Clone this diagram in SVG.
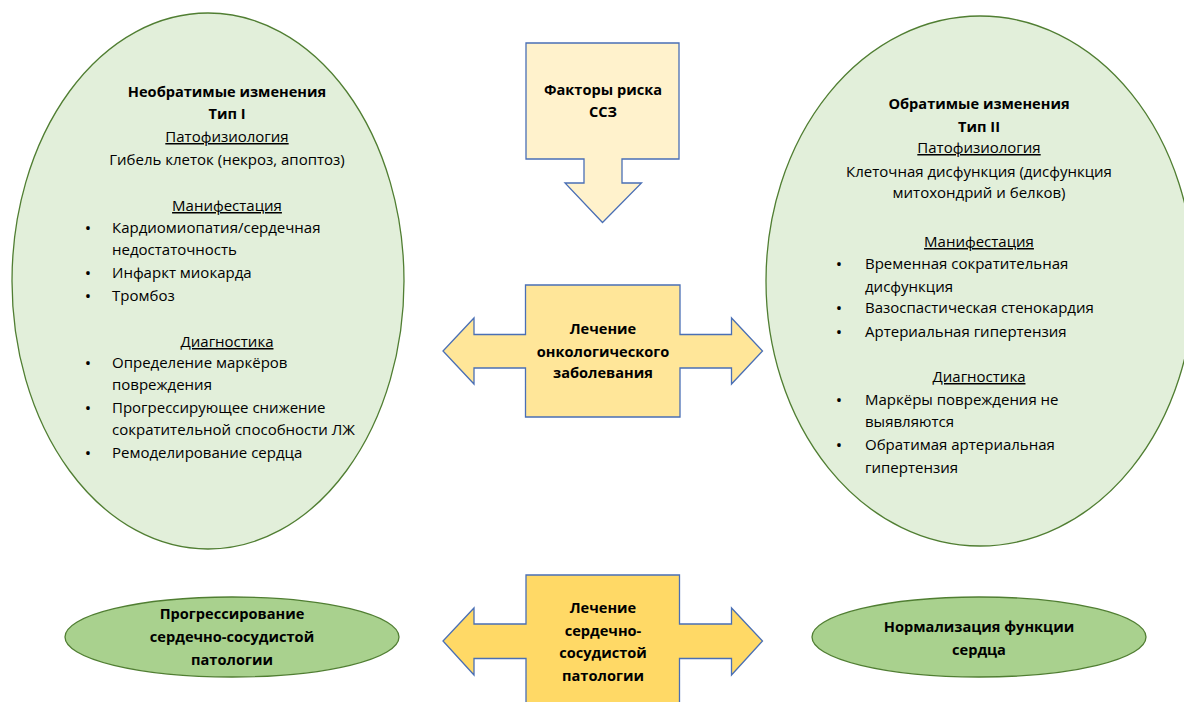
<svg xmlns="http://www.w3.org/2000/svg" width="1184" height="702" viewBox="0 0 1184 702">
<style>
text{font-family:"Open Sans","Noto Sans","Liberation Sans",sans-serif;font-size:15px;fill:#000}
.b{font-weight:bold;font-size:14.6px}
.c{text-anchor:middle}
.u{text-decoration:underline}
.d{font-size:17px;text-anchor:middle}
.big{fill:#E2EFDA;stroke:#507E32;stroke-width:1.3}
.sm{fill:#A9D18E;stroke:#507E32;stroke-width:1.3}
.box{stroke:#4A6FB5;stroke-width:1.3;stroke-linejoin:miter}
</style>
<rect width="1184" height="702" fill="#fff"/>
<g id="connectors"/>
<g id="irreversible">
<ellipse class="big" cx="208" cy="281" rx="196" ry="268"/>
<text class="b c" x="227" y="97">Необратимые изменения</text>
<text class="b c" x="227" y="119">Тип I</text>
<text class="c u" x="227" y="142">Патофизиология</text>
<text class="c" x="227" y="165">Гибель клеток (некроз, апоптоз)</text>
<text class="c u" x="227" y="211">Манифестация</text>
<text class="d" x="88" y="234">•</text><text x="112" y="233">Кардиомиопатия/сердечная</text>
<text x="112" y="255">недостаточность</text>
<text class="d" x="88" y="279">•</text><text x="112" y="278">Инфаркт миокарда</text>
<text class="d" x="88" y="302">•</text><text x="112" y="301">Тромбоз</text>
<text class="c u" x="227" y="347">Диагностика</text>
<text class="d" x="88" y="369">•</text><text x="112" y="368">Определение маркёров</text>
<text x="112" y="390">повреждения</text>
<text class="d" x="88" y="414">•</text><text x="112" y="413">Прогрессирующее снижение</text>
<text x="112" y="435">сократительной способности ЛЖ</text>
<text class="d" x="88" y="459">•</text><text x="112" y="458">Ремоделирование сердца</text>
</g>
<g id="reversible">
<ellipse class="big" cx="980" cy="281" rx="214" ry="265"/>
<text class="b c" x="979" y="109">Обратимые изменения</text>
<text class="b c" x="979" y="132">Тип II</text>
<text class="c u" x="979" y="153">Патофизиология</text>
<text class="c" x="979" y="177">Клеточная дисфункция (дисфункция</text>
<text class="c" x="979" y="198">митохондрий и белков)</text>
<text class="c u" x="979" y="247">Манифестация</text>
<text class="d" x="839" y="270">•</text><text x="865" y="269">Временная сократительная</text>
<text x="865" y="292">дисфункция</text>
<text class="d" x="839" y="314">•</text><text x="865" y="313">Вазоспастическая стенокардия</text>
<text class="d" x="839" y="338">•</text><text x="865" y="337">Артериальная гипертензия</text>
<text class="c u" x="979" y="382">Диагностика</text>
<text class="d" x="839" y="406">•</text><text x="865" y="405">Маркёры повреждения не</text>
<text x="865" y="427">выявляются</text>
<text class="d" x="839" y="451">•</text><text x="865" y="450">Обратимая артериальная</text>
<text x="865" y="473">гипертензия</text>
</g>
<g id="risk-factors">
<path class="box" fill="#FFF2CC" d="M526,43 H679 V159 H622 V183 H641.5 L602.5,222.5 L565,183 H584 V159 H526 Z"/>
<text class="b c" x="603" y="95">Факторы риска</text>
<text class="b c" x="603" y="117">ССЗ</text>
</g>
<g id="onco-treatment">
<path class="box" fill="#FFE699" d="M525.5,285 H680 V334.5 H731.5 V318 L762.5,351 L731.5,384 V368 H680 V417 H525.5 V368 H474 V384 L443,351 L474,318 V334.5 H525.5 Z"/>
<text class="b c" x="603" y="334">Лечение</text>
<text class="b c" x="603" y="357">онкологического</text>
<text class="b c" x="603" y="378">заболевания</text>
</g>
<g id="cv-treatment">
<path class="box" fill="#FFD966" d="M526,575 H679.5 V624 H731.5 V608 L762.5,641 L731.5,675 V658.5 H679.5 V712 H526 V658.5 H474 V675 L443,641 L474,608 V624 H526 Z"/>
<text class="b c" x="603" y="613">Лечение</text>
<text class="b c" x="603" y="636">сердечно-</text>
<text class="b c" x="603" y="658">сосудистой</text>
<text class="b c" x="603" y="681">патологии</text>
</g>
<g id="progression">
<ellipse class="sm" cx="232" cy="637" rx="167" ry="40"/>
<text class="b c" x="232" y="619">Прогрессирование</text>
<text class="b c" x="232" y="642">сердечно-сосудистой</text>
<text class="b c" x="232" y="665">патологии</text>
</g>
<g id="normalization">
<ellipse class="sm" cx="979" cy="637" rx="167" ry="40"/>
<text class="b c" x="979" y="632">Нормализация функции</text>
<text class="b c" x="979" y="655">сердца</text>
</g>
</svg>
